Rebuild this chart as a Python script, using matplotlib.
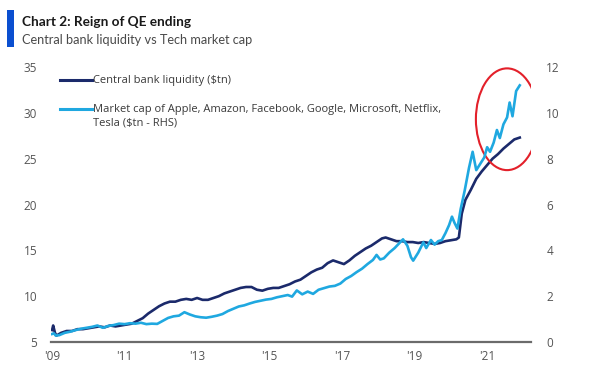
import matplotlib
matplotlib.use("Agg")
import matplotlib.pyplot as plt
from matplotlib.patches import Ellipse, Rectangle
from matplotlib.lines import Line2D

# ---------------- data ----------------
cb_years = [2009.00, 2009.03, 2009.08, 2009.12, 2009.25, 2009.40, 2009.55, 2009.70, 2009.85,
            2010.00, 2010.15, 2010.30, 2010.45, 2010.60, 2010.75, 2010.90, 2011.05, 2011.20,
            2011.35, 2011.50, 2011.65, 2011.80, 2011.95, 2012.10, 2012.25, 2012.40, 2012.55,
            2012.70, 2012.85, 2013.00, 2013.15, 2013.30, 2013.45, 2013.60, 2013.75, 2013.90,
            2014.05, 2014.20, 2014.35, 2014.50, 2014.65, 2014.80, 2014.95, 2015.10, 2015.25,
            2015.40, 2015.55, 2015.70, 2015.85, 2016.00, 2016.15, 2016.30, 2016.45, 2016.60,
            2016.75, 2016.90, 2017.05, 2017.20, 2017.35, 2017.50, 2017.65, 2017.80, 2017.95,
            2018.10, 2018.20, 2018.35, 2018.50, 2018.65, 2018.80, 2018.95, 2019.10, 2019.25,
            2019.40, 2019.55, 2019.70, 2019.85, 2020.00, 2020.15, 2020.22, 2020.30, 2020.40,
            2020.55, 2020.70, 2020.85, 2021.00, 2021.15, 2021.30, 2021.45, 2021.60, 2021.75,
            2021.90]
cb_liquidity = [6.3, 6.8, 6.0, 5.7, 6.0, 6.2, 6.2, 6.4, 6.4,
                6.5, 6.6, 6.7, 6.6, 6.8, 6.7, 6.8, 6.9, 7.0,
                7.3, 7.6, 8.1, 8.5, 8.9, 9.2, 9.4, 9.4, 9.6,
                9.7, 9.6, 9.8, 9.6, 9.6, 9.8, 10.0, 10.3, 10.5,
                10.7, 10.9, 11.0, 11.0, 10.7, 10.6, 10.8, 10.9, 10.9,
                11.1, 11.3, 11.6, 11.8, 12.2, 12.6, 12.9, 13.1, 13.6,
                13.9, 13.7, 13.5, 13.9, 14.4, 14.8, 15.2, 15.5, 15.9,
                16.3, 16.4, 16.2, 16.0, 16.0, 15.9, 15.9, 15.8, 15.9,
                15.8, 15.7, 15.8, 16.0, 16.1, 16.2, 16.4, 19.0, 20.5,
                21.6, 22.8, 23.6, 24.3, 25.0, 25.5, 26.1, 26.6, 27.1,
                27.3]

mc_years = [2009.00, 2009.05, 2009.10, 2009.20, 2009.35, 2009.50, 2009.65, 2009.80, 2009.95,
            2010.10, 2010.25, 2010.40, 2010.55, 2010.70, 2010.85, 2011.00, 2011.15, 2011.30,
            2011.45, 2011.60, 2011.75, 2011.90, 2012.05, 2012.20, 2012.35, 2012.50, 2012.65,
            2012.80, 2012.95, 2013.10, 2013.25, 2013.40, 2013.55, 2013.70, 2013.85, 2014.00,
            2014.15, 2014.30, 2014.45, 2014.60, 2014.75, 2014.90, 2015.05, 2015.20, 2015.35,
            2015.50, 2015.62, 2015.75, 2015.90, 2016.05, 2016.20, 2016.35, 2016.50, 2016.65,
            2016.80, 2016.95, 2017.10, 2017.25, 2017.40, 2017.55, 2017.70, 2017.85, 2017.95,
            2018.05, 2018.15, 2018.30, 2018.45, 2018.60, 2018.68, 2018.80, 2018.90, 2018.96,
            2019.10, 2019.24, 2019.32, 2019.45, 2019.55, 2019.65, 2019.75, 2019.85, 2019.95,
            2020.03, 2020.10, 2020.18, 2020.27, 2020.38, 2020.50, 2020.60, 2020.70, 2020.80,
            2020.92, 2021.00, 2021.08, 2021.18, 2021.27, 2021.35, 2021.45, 2021.55, 2021.62,
            2021.70, 2021.80, 2021.90]
tech_mcap = [0.35, 0.38, 0.28, 0.30, 0.40, 0.45, 0.52, 0.58, 0.62,
             0.66, 0.72, 0.62, 0.70, 0.74, 0.80, 0.78, 0.82, 0.80,
             0.84, 0.78, 0.80, 0.79, 0.92, 1.05, 1.12, 1.15, 1.30,
             1.20, 1.12, 1.08, 1.06, 1.10, 1.15, 1.22, 1.35, 1.45,
             1.55, 1.60, 1.68, 1.75, 1.80, 1.85, 1.88, 1.95, 2.00,
             2.05, 1.98, 2.25, 2.08, 2.20, 2.10, 2.28, 2.35, 2.42,
             2.45, 2.55, 2.75, 2.88, 3.05, 3.20, 3.40, 3.58, 3.80,
             3.60, 3.65, 3.90, 4.10, 4.35, 4.48, 4.20, 3.70, 3.55,
             3.90, 4.35, 4.10, 4.45, 4.25, 4.40, 4.45, 4.75, 5.10,
             5.47, 5.20, 4.95, 5.80, 6.60, 7.60, 8.30, 7.50, 7.75,
             8.05, 8.50, 8.30, 8.70, 9.25, 8.90, 9.50, 9.80, 10.45,
             9.85, 10.95, 11.20]

x_ticks = [2009, 2011, 2013, 2015, 2017, 2019, 2021]
x_tick_labels = ["'09", "'11", "'13", "'15", "'17", "'19", "'21"]
left_ticks = [5, 10, 15, 20, 25, 30, 35]
right_ticks = [0, 2, 4, 6, 8, 10, 12]

title = "Chart 2: Reign of QE ending"
subtitle = "Central bank liquidity vs Tech market cap"
label_cb = "Central bank liquidity (\\$tn)"
label_mc = "Market cap of Apple, Amazon, Facebook, Google, Microsoft, Netflix,\nTesla (\\$tn - RHS)"

# ---------------- style ----------------
plt.rcParams['font.family'] = ['Open Sans', 'DejaVu Sans']
DARK = '#1b2a6b'
LIGHT = '#1fa8e0'
TICK = '#555555'

W, H = 604, 374
fig = plt.figure(figsize=(W / 100, H / 100), dpi=100)
fig.patch.set_facecolor('white')

ax = fig.add_axes([51 / W, 1 - 342 / H, (531 - 51) / W, (342 - 67) / H])
ax2 = ax.twinx()

ax.plot(cb_years, cb_liquidity, color=DARK, lw=1.9, solid_joinstyle='round', zorder=3)
ax2.plot(mc_years, tech_mcap, color=LIGHT, lw=1.9, solid_joinstyle='round', zorder=2)

ax.set_xlim(2008.97, 2022.21)
ax.set_ylim(5, 35)
ax2.set_ylim(0, 12)

ax.set_xticks(x_ticks)
ax.set_xticklabels(x_tick_labels)
ax.set_yticks(left_ticks)
ax2.set_yticks(right_ticks)

for a in (ax, ax2):
    for s in ['top', 'left', 'right', 'bottom']:
        a.spines[s].set_visible(False)
    a.tick_params(length=0, labelsize=8.5, labelcolor=TICK)
ax.spines['bottom'].set_visible(True)
ax.spines['bottom'].set_color('#6b6b6b')
ax.spines['bottom'].set_linewidth(1.6)
ax.tick_params(axis='x', pad=6)
ax.tick_params(axis='y', pad=10)
ax2.tick_params(axis='y', pad=11)

# red ellipse highlight
ell = Ellipse((2021.55, 29.3), width=1.72, height=11.1, fill=False,
              edgecolor='#e3202a', lw=1.5, zorder=5)
ax.add_patch(ell)

# legend (handle aligned with first text line, as in the original)
def fx(px):
    return px / W

def fy(py):
    return 1 - py / H

fig.add_artist(Line2D([fx(60), fx(92)], [fy(80), fy(80)], color=DARK, lw=2.2,
                      transform=fig.transFigure))
fig.add_artist(Line2D([fx(60), fx(92)], [fy(109), fy(109)], color=LIGHT, lw=2.2,
                      transform=fig.transFigure))
fig.text(fx(93), fy(80), label_cb, fontsize=8, color='#3a3a3a', va='center', ha='left')
fig.text(fx(93), fy(116), label_mc, fontsize=8, color='#3a3a3a', va='center', ha='left',
         linespacing=1.3)

# title block
fig.patches.append(Rectangle((fx(7), fy(47)), 7 / W, 37 / H, transform=fig.transFigure,
                             facecolor='#0b4fd0', edgecolor='none'))
fig.text(fx(22), fy(22), title, fontsize=9.8, fontweight='bold', color='#1a1a1a',
         va='center', ha='left', family=['Lato', 'DejaVu Sans'])
fig.text(fx(22), fy(40), subtitle, fontsize=9.2, color='#4a4a4a', va='center', ha='left',
         family=['Lato', 'DejaVu Sans'])

fig.savefig('out.png', dpi=100, facecolor='white')
